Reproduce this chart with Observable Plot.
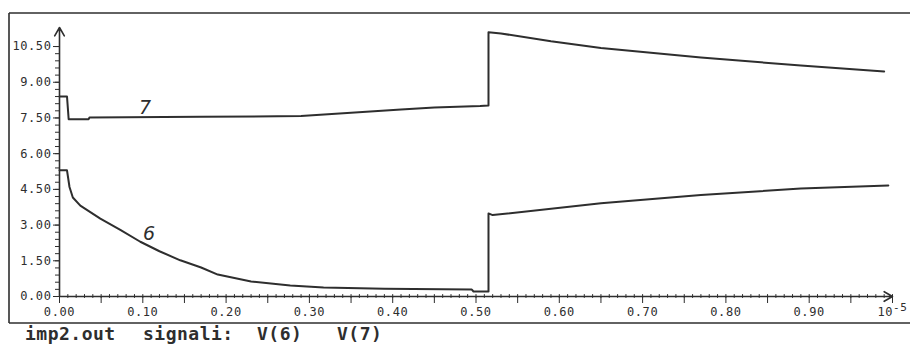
<!DOCTYPE html>
<html>
<head>
<meta charset="utf-8">
<script src="https://cdn.jsdelivr.net/npm/d3@7"></script>
<script src="https://cdn.jsdelivr.net/npm/@observablehq/plot@0.6"></script>
<style>
  html, body { margin: 0; padding: 0; background: #fff; }
  #chart svg { display: block; }
</style>
</head>
<body>
<div id="chart"></div>
<script>
// ---- data (time in units of 1e-5 s, voltage in V) ----
const t7 = [0, 0.009, 0.011, 0.035, 0.036, 0.17, 0.29, 0.41, 0.45, 0.505, 0.515, 0.515, 0.53, 0.59, 0.65, 0.77, 0.89, 0.99];
const v7 = [8.4, 8.4, 7.45, 7.45, 7.52, 7.55, 7.58, 7.86, 7.94, 8.0, 8.02, 11.1, 11.05, 10.72, 10.44, 10.04, 9.7, 9.45];

const t6 = [0, 0.009, 0.012, 0.016, 0.025, 0.049, 0.073, 0.097, 0.12, 0.145, 0.17, 0.19, 0.23, 0.277, 0.317, 0.39, 0.495, 0.497, 0.515, 0.515, 0.52, 0.65, 0.77, 0.89, 0.995];
const v6 = [5.3, 5.3, 4.6, 4.16, 3.82, 3.27, 2.8, 2.3, 1.9, 1.52, 1.22, 0.92, 0.63, 0.46, 0.38, 0.33, 0.29, 0.21, 0.21, 3.49, 3.42, 3.92, 4.26, 4.54, 4.66];

const curveNames = ["7", "6"];
const curveLabelT = [0.103, 0.108];
const curveLabelV = [7.94, 2.62];

const yTicks = [0, 1.5, 3, 4.5, 6, 7.5, 9, 10.5];
const yTickLabels = ["0.00", "1.50", "3.00", "4.50", "6.00", "7.50", "9.00", "10.50"];
const xTicks = [0, 0.1, 0.2, 0.3, 0.4, 0.5, 0.6, 0.7, 0.8, 0.9, 1.0];
const xTickLabels = ["0.00", "0.10", "0.20", "0.30", "0.40", "0.50", "0.60", "0.70", "0.80", "0.90", "10"];
const xUnitExponent = "-5";
const xMax = 1.0;
const yMax = 11.3;

const captionParts = ["imp2.out", "signali:", "V(6)", "V(7)"];

// ---- derived tables ----
const s7 = t7.map((t, i) => ({t, v: v7[i]}));
const s6 = t6.map((t, i) => ({t, v: v6[i]}));
const labels = curveNames.map((n, i) => ({n, t: curveLabelT[i], v: curveLabelV[i]}));
const xMid = d3.range(0, 21).map(i => i * 0.05);
const xMinor = d3.range(0, 101).map(i => i * 0.01);
const yMinor = d3.range(0, 36).map(i => i * 0.3);

const ink = "#2e2e2e";

const plot = Plot.plot({
  width: 910,
  height: 346,
  marginLeft: 59,
  marginRight: 18,
  marginTop: 27,
  marginBottom: 50,
  x: {domain: [0, xMax], label: null},
  y: {domain: [0, yMax], label: null},
  style: {fontFamily: "'DejaVu Sans Mono', monospace", fontSize: "12px", color: ink, background: "#fff", letterSpacing: "0.6px"},
  marks: [
    // y axis
    Plot.axisY({ticks: yMinor, tickSize: 4, tickFormat: () => "", label: null, stroke: ink}),
    Plot.axisY({ticks: yTicks, tickSize: 6, tickPadding: 2, label: null, stroke: ink,
      tickFormat: d => yTickLabels[Math.round(d / 1.5)]}),
    // x axis
    Plot.ruleX(xMinor, {x: d => d, y1: -0.08, y2: 0.08, stroke: ink, strokeWidth: 1}),
    Plot.axisX({ticks: xMid, tickSize: 7, tickFormat: () => "", label: null, stroke: ink}),
    Plot.axisX({ticks: xTicks, tickSize: 0, tickPadding: 11, label: null,
      tickFormat: d => xTickLabels[Math.round(d * 10)]}),
    Plot.arrow([0], {x1: () => 0, y1: () => 0, x2: () => 0, y2: () => yMax, stroke: ink, strokeWidth: 1.6, headLength: 9}),
    Plot.arrow([0], {x1: () => 0, y1: () => 0, x2: () => xMax, y2: () => 0, stroke: ink, strokeWidth: 1.6, headLength: 9}),
    // curves
    Plot.line(s7, {x: "t", y: "v", stroke: ink, strokeWidth: 2}),
    Plot.line(s6, {x: "t", y: "v", stroke: ink, strokeWidth: 2}),
    Plot.text(labels, {x: "t", y: "v", text: "n", fontSize: 19, fontStyle: "italic",
      fontFamily: "'DejaVu Sans', sans-serif", fill: ink})
  ]
});

document.getElementById("chart").appendChild(plot);

const svg = d3.select(plot);

// exponent of the time unit on the last x tick label
svg.selectAll("text").filter(function () { return this.textContent === "10"; })
  .append("tspan").attr("dy", "-0.45em").attr("font-size", 11).text(xUnitExponent);

// scan frame and caption
const frame = svg.append("g").attr("stroke", ink).attr("stroke-width", 1.6).attr("fill", "none");
frame.append("line").attr("x1", 9).attr("x2", 9).attr("y1", 13).attr("y2", 323);
frame.append("line").attr("x1", 9).attr("x2", 910).attr("y1", 13).attr("y2", 13);
frame.append("line").attr("x1", 9).attr("x2", 910).attr("y1", 323).attr("y2", 323);

const capX = [25, 143, 257, 337];
const cap = svg.append("g")
  .attr("font-family", "'DejaVu Sans Mono', monospace")
  .attr("font-size", 18)
  .attr("font-weight", "bold")
  .attr("letter-spacing", "0.5px")
  .attr("text-anchor", "start")
  .attr("fill", ink);
captionParts.forEach((p, i) => {
  cap.append("text").attr("x", capX[i]).attr("y", 340).text(p);
});
</script>
</body>
</html>
